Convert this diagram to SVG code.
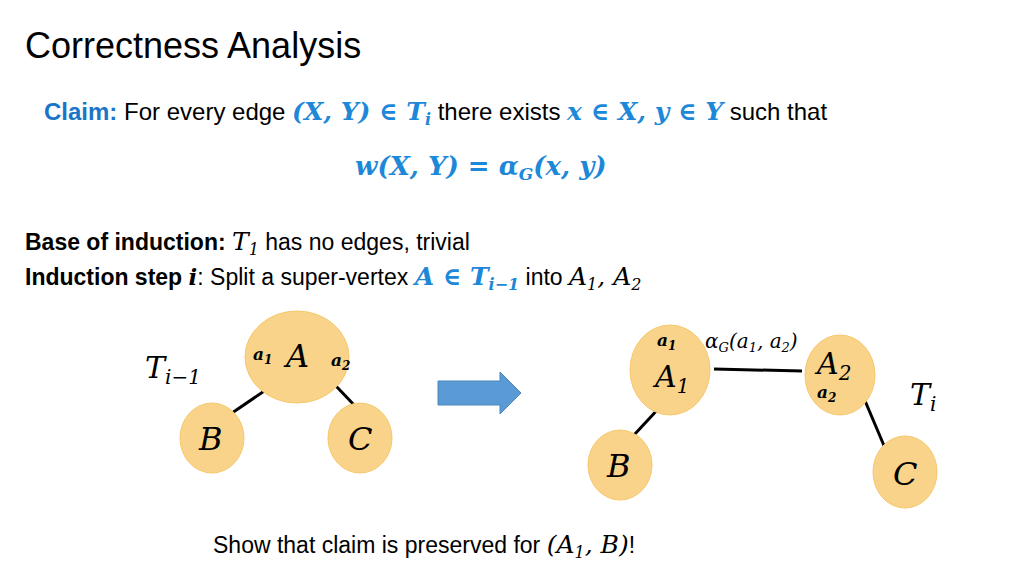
<svg xmlns="http://www.w3.org/2000/svg" width="1024" height="576" viewBox="0 0 1024 576">
<style>
.n{fill:#f9d38a;stroke:#f6c86a;stroke-width:1}
.e{stroke:#000;stroke-width:3}
.t{font-family:"Liberation Sans",Arial,sans-serif;fill:#000}
.m{font-family:"DejaVu Serif","Liberation Serif",serif;font-style:italic;fill:#000}
.b{fill:#1e88d8;font-weight:bold}
</style>
<rect width="1024" height="576" fill="#fff"/>
<text class="t" x="25" y="58" font-size="36" fill="#333" font-weight="300">Correctness Analysis</text>
<text class="t" x="44" y="120" font-size="24"><tspan fill="#1a75c8" font-weight="bold">Claim:</tspan> For every edge <tspan class="m b" font-size="25">(X, Y) ∈ T<tspan font-size="16" dy="5">i</tspan></tspan><tspan dy="-5"> there exists </tspan><tspan class="m b" font-size="25">x ∈ X, y ∈ Y</tspan> such that</text>
<text class="m b" x="355" y="175" font-size="26">w(X, Y) = α<tspan font-size="17" dy="5">G</tspan><tspan dy="-5">(x, y)</tspan></text>
<text class="t" x="25" y="250" font-size="23"><tspan font-weight="bold">Base of induction: </tspan><tspan class="m" font-size="25">T<tspan font-size="16" dy="5">1</tspan></tspan><tspan dy="-5"> has no edges, trivial</tspan></text>
<text class="t" x="25" y="285" font-size="23"><tspan font-weight="bold">Induction step </tspan><tspan class="m" font-weight="bold">i</tspan>: Split a super-vertex <tspan class="m b" font-size="25">A ∈ T<tspan font-size="16" dy="5">i−1</tspan></tspan><tspan dy="-5"> into </tspan><tspan class="m" font-size="25">A<tspan font-size="16" dy="5">1</tspan><tspan dy="-5">, A</tspan><tspan font-size="16" dy="5">2</tspan></tspan></text>
<g id="connectors">
<line class="e" x1="273" y1="385" x2="232" y2="413"/>
<line class="e" x1="335" y1="385" x2="357" y2="408"/>
<line class="e" x1="714" y1="369" x2="802" y2="371"/>
<line class="e" x1="660" y1="407" x2="634" y2="435"/>
<line class="e" x1="863" y1="396" x2="885" y2="448"/>
</g>
<g id="left-A"><ellipse class="n" cx="297" cy="357" rx="52" ry="46"/>
<text class="m" x="286" y="367" font-size="32">A</text>
<text class="m" x="253" y="360" font-size="17" font-weight="bold">a<tspan font-size="12" dy="4">1</tspan></text>
<text class="m" x="331" y="366" font-size="17" font-weight="bold">a<tspan font-size="12" dy="4">2</tspan></text></g>
<g id="left-B"><ellipse class="n" cx="212" cy="438" rx="32" ry="35"/><text class="m" x="199" y="450" font-size="32">B</text></g>
<g id="left-C"><ellipse class="n" cx="360" cy="438" rx="32" ry="35"/><text class="m" x="348" y="450" font-size="32">C</text></g>
<text class="m" x="145" y="378" font-size="30">T<tspan font-size="20" dy="6">i−1</tspan></text>
<g id="arrow"><path d="M438 381 H500 V372 L521 393 L500 414 V405 H438 Z" fill="#5b9bd5" stroke="#4a86be"/></g>
<g id="right-A1"><ellipse class="n" cx="670" cy="370" rx="40" ry="45"/>
<text class="m" x="655" y="387" font-size="30">A<tspan font-size="20" dy="6">1</tspan></text>
<text class="m" x="657" y="346" font-size="17" font-weight="bold">a<tspan font-size="12" dy="4">1</tspan></text></g>
<g id="right-A2"><ellipse class="n" cx="840" cy="375" rx="35" ry="40"/>
<text class="m" x="817" y="374" font-size="30">A<tspan font-size="20" dy="6">2</tspan></text>
<text class="m" x="817" y="398" font-size="17" font-weight="bold">a<tspan font-size="12" dy="4">2</tspan></text></g>
<g id="right-B"><ellipse class="n" cx="620" cy="465" rx="32" ry="35"/><text class="m" x="607" y="477" font-size="32">B</text></g>
<g id="right-C"><ellipse class="n" cx="905" cy="472" rx="32" ry="36"/><text class="m" x="893" y="485" font-size="32">C</text></g>
<text class="m" x="705" y="348" font-size="20">α<tspan font-size="13" dy="4">G</tspan><tspan dy="-4">(a</tspan><tspan font-size="13" dy="4">1</tspan><tspan dy="-4">, a</tspan><tspan font-size="13" dy="4">2</tspan><tspan dy="-4">)</tspan></text>
<text class="m" x="910" y="405" font-size="30">T<tspan font-size="20" dy="6">i</tspan></text>
<text class="t" x="213" y="553" font-size="23">Show that claim is preserved for <tspan class="m" font-size="25">(A<tspan font-size="16" dy="5">1</tspan><tspan dy="-5">, B)</tspan></tspan>!</text>
</svg>
